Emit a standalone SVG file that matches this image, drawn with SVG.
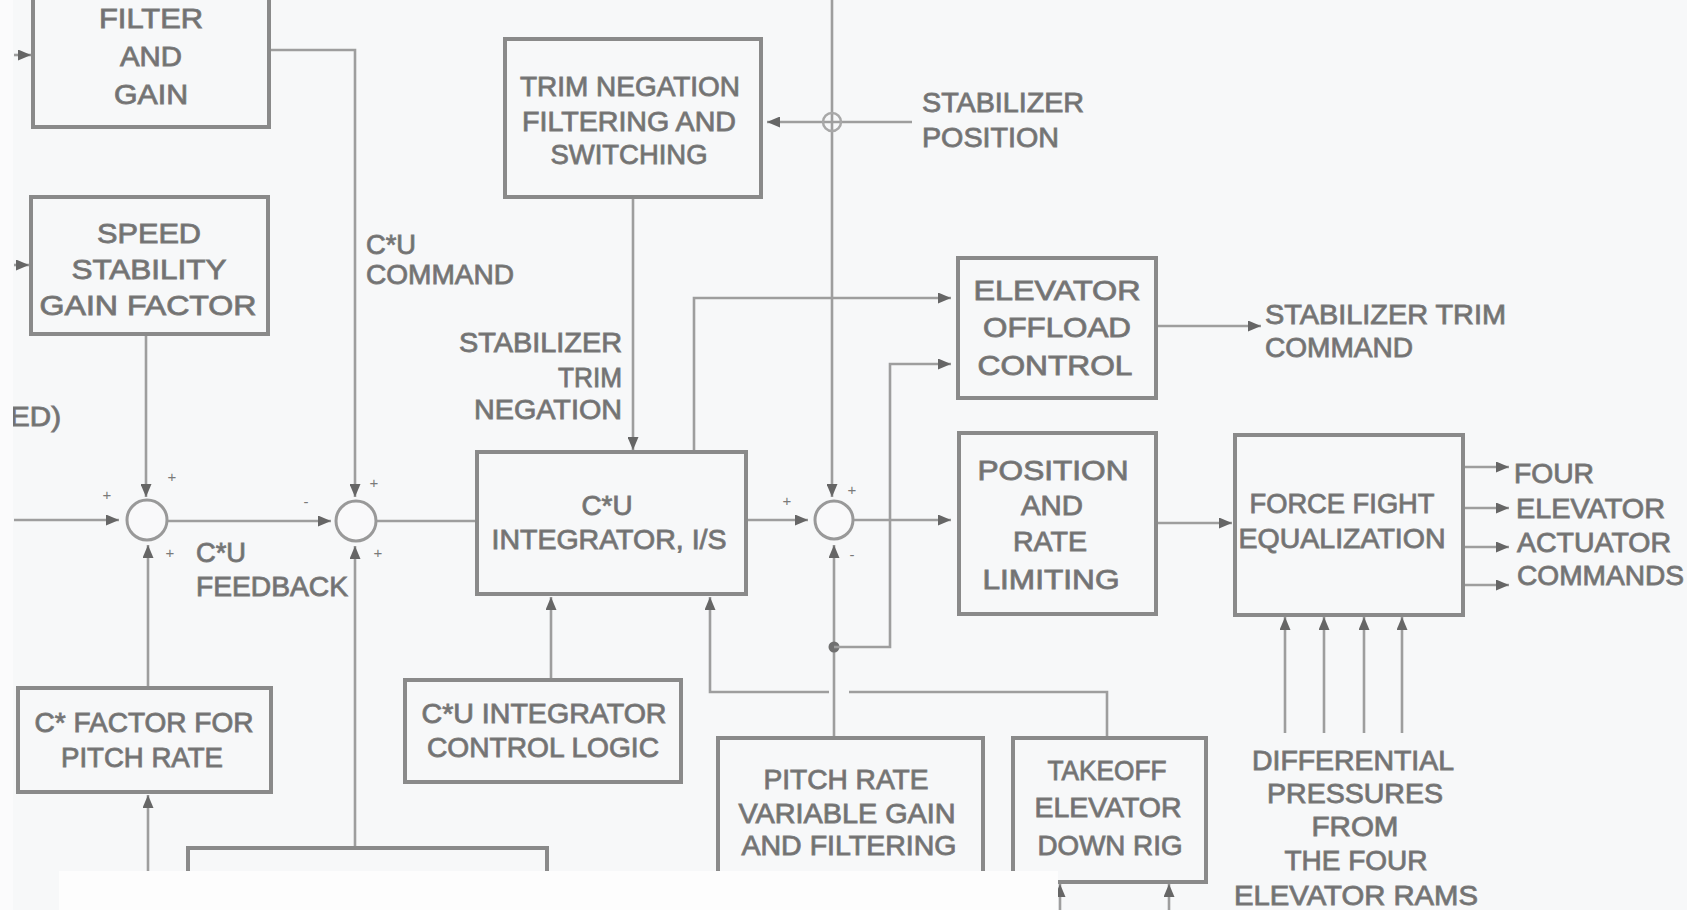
<svg xmlns="http://www.w3.org/2000/svg" width="1687" height="910" viewBox="0 0 1687 910">
  <defs>
    <style>
      .bx { fill: none; stroke: #8a8a8a; stroke-width: 4; }
      .sum { fill: #f9f9fa; stroke: #999999; stroke-width: 3; }
      .ln { fill: none; stroke: #9e9e9e; stroke-width: 2.6; }
      .ar { marker-end: url(#arr); }
      .t { font-family: "Liberation Sans", Arial, Helvetica, sans-serif; font-size: 28px; fill: #707070; stroke: #7c7c7c; stroke-width: 0.9; text-anchor: middle; }
      .s { text-anchor: start; }
      .e { text-anchor: end; }
      .sg { font-family: "Liberation Sans", Arial, sans-serif; font-size: 15px; fill: #7a7a7a; text-anchor: middle; }
    </style>
    <marker id="arr" viewBox="0 0 13 11" refX="13" refY="5.5" markerWidth="13" markerHeight="11" markerUnits="userSpaceOnUse" orient="auto">
      <path d="M0,0 L13,5.5 L0,11 Z" fill="#666666"/>
    </marker>
  </defs>

  <!-- paper -->
  <rect x="0" y="0" width="1687" height="910" fill="#f7f8f9"/>

  <!-- connectors -->
  <g id="connectors">
    <!-- left inputs -->
    <path class="ln ar" d="M14,55 H31"/>
    <path class="ln ar" d="M14,265 H29"/>
    <path class="ln ar" d="M14,520 H119"/>
    <!-- speed stability gain into first summer -->
    <path class="ln ar" d="M146,334 V497"/>
    <!-- C* factor into first summer -->
    <path class="ln ar" d="M148,688 V545"/>
    <!-- input to C* factor -->
    <path class="ln ar" d="M148,880 V795"/>
    <!-- first summer to second summer -->
    <path class="ln ar" d="M167,521 H331"/>
    <!-- filter and gain: C*U command -->
    <path class="ln ar" d="M269,50 H355 V497"/>
    <!-- C*U feedback -->
    <path class="ln ar" d="M355,848 V546"/>
    <!-- second summer to integrator -->
    <path class="ln" d="M376,521 H477"/>
    <!-- stabilizer trim negation -->
    <path class="ln ar" d="M633,197 V450"/>
    <!-- integrator to elevator offload -->
    <path class="ln ar" d="M694,452 V298 H951"/>
    <!-- stabilizer position feed -->
    <path class="ln ar" d="M912,122 H767"/>
    <!-- long vertical into third summer -->
    <path class="ln ar" d="M832,0 V497"/>
    <circle cx="832" cy="122" r="9" fill="none" stroke="#a8a8a8" stroke-width="2.5"/>
    <!-- integrator to third summer -->
    <path class="ln ar" d="M746,520 H808"/>
    <!-- third summer to position and rate limiting -->
    <path class="ln ar" d="M853,520 H951"/>
    <!-- pitch rate feedback into third summer -->
    <path class="ln ar" d="M834,738 V545"/>
    <circle cx="834" cy="647" r="5.5" fill="#707070"/>
    <path class="ln ar" d="M834,647 H890 V364 H951"/>
    <!-- takeoff rig into integrator -->
    <path class="ln" d="M1107,738 V692 H849"/>
    <path class="ln ar" d="M829,692 H710 V597"/>
    <!-- control logic into integrator -->
    <path class="ln ar" d="M551,680 V597"/>
    <!-- stabilizer trim command -->
    <path class="ln ar" d="M1156,326 H1261"/>
    <!-- position limiting to force fight -->
    <path class="ln ar" d="M1156,523 H1232"/>
    <!-- actuator commands -->
    <path class="ln ar" d="M1463,467 H1509"/>
    <path class="ln ar" d="M1463,508 H1509"/>
    <path class="ln ar" d="M1463,547 H1509"/>
    <path class="ln ar" d="M1463,585 H1509"/>
    <!-- differential pressures -->
    <path class="ln ar" d="M1285,733 V617"/>
    <path class="ln ar" d="M1324,733 V617"/>
    <path class="ln ar" d="M1364,733 V617"/>
    <path class="ln ar" d="M1402,733 V617"/>
    <!-- inputs under takeoff rig -->
    <path class="ln ar" d="M1060,910 V884"/>
    <path class="ln ar" d="M1169,910 V884"/>
  </g>

  <!-- summing junctions -->
  <g id="sum1">
    <circle class="sum" cx="147" cy="520" r="20"/>
    <text class="sg" x="107" y="500">+</text>
    <text class="sg" x="172" y="482">+</text>
    <text class="sg" x="170" y="558">+</text>
  </g>
  <g id="sum2">
    <circle class="sum" cx="356" cy="521" r="20"/>
    <text class="sg" x="306" y="507">-</text>
    <text class="sg" x="374" y="488">+</text>
    <text class="sg" x="378" y="558">+</text>
  </g>
  <g id="sum3">
    <circle class="sum" cx="834" cy="520" r="19"/>
    <text class="sg" x="787" y="506">+</text>
    <text class="sg" x="852" y="495">+</text>
    <text class="sg" x="852" y="560">-</text>
  </g>

  <!-- blocks -->
  <g id="filter-gain">
    <rect class="bx" x="33" y="-10" width="236" height="137"/>
    <text class="t" x="151" y="28" textLength="104" lengthAdjust="spacingAndGlyphs">FILTER</text>
    <text class="t" x="151" y="66" textLength="62" lengthAdjust="spacingAndGlyphs">AND</text>
    <text class="t" x="151" y="104" textLength="74" lengthAdjust="spacingAndGlyphs">GAIN</text>
  </g>
  <g id="speed-stability">
    <rect class="bx" x="31" y="197" width="237" height="137"/>
    <text class="t" x="149" y="243" textLength="104" lengthAdjust="spacingAndGlyphs">SPEED</text>
    <text class="t" x="149" y="279" textLength="155" lengthAdjust="spacingAndGlyphs">STABILITY</text>
    <text class="t" x="148" y="315" textLength="217" lengthAdjust="spacingAndGlyphs">GAIN FACTOR</text>
  </g>
  <g id="trim-negation">
    <rect class="bx" x="505" y="39" width="256" height="158"/>
    <text class="t" x="630" y="96" textLength="220" lengthAdjust="spacingAndGlyphs">TRIM NEGATION</text>
    <text class="t" x="629" y="131" textLength="214" lengthAdjust="spacingAndGlyphs">FILTERING AND</text>
    <text class="t" x="629" y="164" textLength="157" lengthAdjust="spacingAndGlyphs">SWITCHING</text>
  </g>
  <g id="integrator">
    <rect class="bx" x="477" y="452" width="269" height="142"/>
    <text class="t" x="607" y="515" textLength="51" lengthAdjust="spacingAndGlyphs">C*U</text>
    <text class="t" x="609" y="549" textLength="235" lengthAdjust="spacingAndGlyphs">INTEGRATOR, I/S</text>
  </g>
  <g id="elevator-offload">
    <rect class="bx" x="958" y="258" width="198" height="140"/>
    <text class="t" x="1057" y="300" textLength="167" lengthAdjust="spacingAndGlyphs">ELEVATOR</text>
    <text class="t" x="1057" y="337" textLength="148" lengthAdjust="spacingAndGlyphs">OFFLOAD</text>
    <text class="t" x="1055" y="375" textLength="155" lengthAdjust="spacingAndGlyphs">CONTROL</text>
  </g>
  <g id="position-rate">
    <rect class="bx" x="959" y="433" width="197" height="181"/>
    <text class="t" x="1053" y="480" textLength="151" lengthAdjust="spacingAndGlyphs">POSITION</text>
    <text class="t" x="1052" y="515" textLength="62" lengthAdjust="spacingAndGlyphs">AND</text>
    <text class="t" x="1050" y="551" textLength="74" lengthAdjust="spacingAndGlyphs">RATE</text>
    <text class="t" x="1051" y="589" textLength="137" lengthAdjust="spacingAndGlyphs">LIMITING</text>
  </g>
  <g id="force-fight">
    <rect class="bx" x="1235" y="435" width="228" height="180"/>
    <text class="t" x="1342" y="513" textLength="185" lengthAdjust="spacingAndGlyphs">FORCE FIGHT</text>
    <text class="t" x="1342" y="548" textLength="207" lengthAdjust="spacingAndGlyphs">EQUALIZATION</text>
  </g>
  <g id="cstar-factor">
    <rect class="bx" x="18" y="688" width="253" height="104"/>
    <text class="t" x="144" y="732" textLength="219" lengthAdjust="spacingAndGlyphs">C* FACTOR FOR</text>
    <text class="t" x="142" y="767" textLength="162" lengthAdjust="spacingAndGlyphs">PITCH RATE</text>
  </g>
  <g id="integrator-logic">
    <rect class="bx" x="405" y="680" width="276" height="102"/>
    <text class="t" x="544" y="723" textLength="245" lengthAdjust="spacingAndGlyphs">C*U INTEGRATOR</text>
    <text class="t" x="543" y="757" textLength="232" lengthAdjust="spacingAndGlyphs">CONTROL LOGIC</text>
  </g>
  <g id="pitch-rate-gain">
    <rect class="bx" x="718" y="738" width="265" height="200"/>
    <text class="t" x="846" y="789" textLength="165" lengthAdjust="spacingAndGlyphs">PITCH RATE</text>
    <text class="t" x="847" y="823" textLength="217" lengthAdjust="spacingAndGlyphs">VARIABLE GAIN</text>
    <text class="t" x="849" y="855" textLength="215" lengthAdjust="spacingAndGlyphs">AND FILTERING</text>
  </g>
  <g id="takeoff-rig">
    <rect class="bx" x="1013" y="738" width="193" height="144"/>
    <text class="t" x="1107" y="780" textLength="119" lengthAdjust="spacingAndGlyphs">TAKEOFF</text>
    <text class="t" x="1108" y="817" textLength="147" lengthAdjust="spacingAndGlyphs">ELEVATOR</text>
    <text class="t" x="1110" y="855" textLength="145" lengthAdjust="spacingAndGlyphs">DOWN RIG</text>
  </g>
  <g id="lower-block">
    <rect class="bx" x="188" y="848" width="359" height="100"/>
  </g>

  <!-- signal labels -->
  <g id="labels">
    <text class="t s" x="366" y="254" textLength="50" lengthAdjust="spacingAndGlyphs">C*U</text>
    <text class="t s" x="366" y="284" textLength="148" lengthAdjust="spacingAndGlyphs">COMMAND</text>
    <text class="t e" x="622" y="352" textLength="163" lengthAdjust="spacingAndGlyphs">STABILIZER</text>
    <text class="t e" x="622" y="387" textLength="64" lengthAdjust="spacingAndGlyphs">TRIM</text>
    <text class="t e" x="622" y="419" textLength="148" lengthAdjust="spacingAndGlyphs">NEGATION</text>
    <text class="t s" x="922" y="112" textLength="162" lengthAdjust="spacingAndGlyphs">STABILIZER</text>
    <text class="t s" x="922" y="147" textLength="137" lengthAdjust="spacingAndGlyphs">POSITION</text>
    <text class="t s" x="1265" y="324" textLength="241" lengthAdjust="spacingAndGlyphs">STABILIZER TRIM</text>
    <text class="t s" x="1265" y="357" textLength="148" lengthAdjust="spacingAndGlyphs">COMMAND</text>
    <text class="t s" x="1514" y="483" textLength="80" lengthAdjust="spacingAndGlyphs">FOUR</text>
    <text class="t s" x="1516" y="518" textLength="149" lengthAdjust="spacingAndGlyphs">ELEVATOR</text>
    <text class="t s" x="1517" y="552" textLength="154" lengthAdjust="spacingAndGlyphs">ACTUATOR</text>
    <text class="t s" x="1517" y="585" textLength="167" lengthAdjust="spacingAndGlyphs">COMMANDS</text>
    <text class="t s" x="196" y="562" textLength="50" lengthAdjust="spacingAndGlyphs">C*U</text>
    <text class="t s" x="196" y="596" textLength="152" lengthAdjust="spacingAndGlyphs">FEEDBACK</text>
    <text class="t" x="1353" y="770" textLength="202" lengthAdjust="spacingAndGlyphs">DIFFERENTIAL</text>
    <text class="t" x="1355" y="803" textLength="176" lengthAdjust="spacingAndGlyphs">PRESSURES</text>
    <text class="t" x="1355" y="836" textLength="87" lengthAdjust="spacingAndGlyphs">FROM</text>
    <text class="t" x="1356" y="870" textLength="143" lengthAdjust="spacingAndGlyphs">THE FOUR</text>
    <text class="t" x="1356" y="905" textLength="244" lengthAdjust="spacingAndGlyphs">ELEVATOR RAMS</text>
    <text class="t s" x="10" y="426" textLength="51" lengthAdjust="spacingAndGlyphs">ED)</text>
  </g>

  <!-- sheet edges -->
  <rect x="0" y="0" width="13" height="910" fill="#fbfbfc"/>
  <rect x="59" y="871" width="999" height="39" fill="#fdfdfd"/>
</svg>
